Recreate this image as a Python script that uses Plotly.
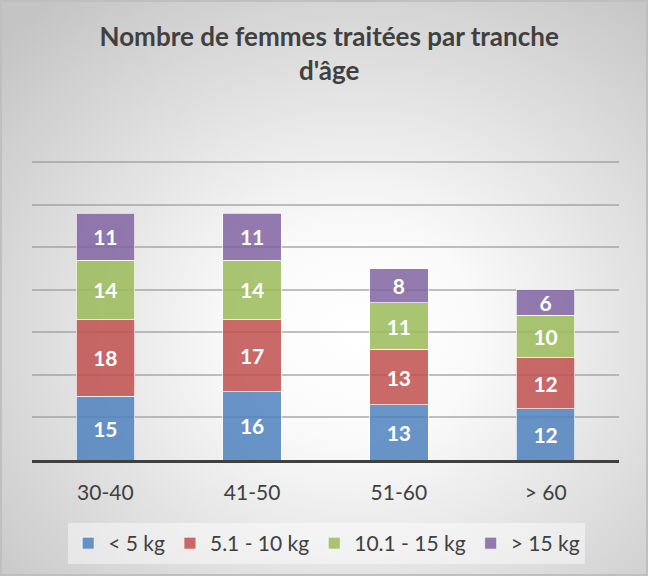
import base64
import plotly.graph_objects as go

# data
tranches = ["30-40", "41-50", "51-60", "> 60"]
moins_5kg = [15, 16, 13, 12]
de_5_10kg = [18, 17, 13, 12]
de_10_15kg = [14, 14, 11, 10]
plus_15kg = [11, 11, 8, 6]
series_names = ["< 5 kg", "5.1 - 10 kg", "10.1 - 15 kg", "> 15 kg"]
series_colors = ["rgba(79,129,189,0.85)", "rgba(192,80,77,0.85)",
                 "rgba(155,187,89,0.85)", "rgba(128,100,162,0.85)"]

W, H = 648, 576
ML, MR, MT, MB = 32, 29, 158, 116
pw, ph = W - ML - MR, H - MT - MB

# radial grey background like the Excel chart style
svg = f"""<svg xmlns='http://www.w3.org/2000/svg' width='{W}' height='{H}' viewBox='0 0 {W} {H}' preserveAspectRatio='none'>
<defs><radialGradient id='g' cx='55%' cy='58%' r='75%'>
<stop offset='0%' stop-color='#ffffff'/><stop offset='25%' stop-color='#fafafa'/>
<stop offset='100%' stop-color='#c4c4c4'/></radialGradient></defs>
<rect x='1' y='1' width='{W-2}' height='{H-2}' fill='url(#g)' stroke='#bfbfbf' stroke-width='2'/>
</svg>"""
bg_src = "data:image/svg+xml;base64," + base64.b64encode(svg.encode()).decode()

fig = go.Figure()
for name, vals, col in zip(series_names, [moins_5kg, de_5_10kg, de_10_15kg, plus_15kg], series_colors):
    fig.add_trace(go.Bar(
        x=tranches, y=vals, name=name,
        marker=dict(color=col, line=dict(color="rgba(255,255,255,0.7)", width=1)),
        text=vals, textposition="inside", insidetextanchor="middle",
        textangle=0, constraintext="none",
        textfont=dict(family="Lato", size=21, color="white", weight="bold"),
    ))

fig.update_layout(
    width=W, height=H,
    barmode="stack", bargap=0.6,
    margin=dict(l=ML, r=MR, t=MT, b=MB),
    paper_bgcolor="white",
    plot_bgcolor="rgba(0,0,0,0)",
    font=dict(family="Lato", color="#404040"),
    title=dict(
        text="<b>Nombre de femmes traitées par tranche<br>d'âge</b>",
        font=dict(size=26, color="#404040"),
        x=0.508, xanchor="center", y=1 - 46 / H, yanchor="middle",
    ),
    xaxis=dict(
        showline=True, linecolor="#404040", linewidth=3,
        showgrid=False, tickfont=dict(size=21, color="#404040"),
        ticks="", ticklabelstandoff=12,
    ),
    yaxis=dict(
        range=[0, 71], dtick=10, showticklabels=False,
        showgrid=True, gridcolor="rgba(150,150,150,0.6)", gridwidth=1.5,
        zeroline=False,
    ),
    legend=dict(
        orientation="h", x=0.502, xanchor="center",
        y=-(523 - 460) / ph, yanchor="top",
        bgcolor="rgba(255,255,255,0.45)",
        font=dict(size=21, color="#404040"),
        itemwidth=30, traceorder="normal",
    ),
    showlegend=True,
    images=[dict(
        source=bg_src, xref="paper", yref="paper",
        x=-ML / pw, y=1 + MT / ph, sizex=W / pw, sizey=H / ph,
        xanchor="left", yanchor="top", sizing="stretch", layer="below",
    )],
)

fig.write_html("out.html", config={"displayModeBar": False},
               post_script="document.body.style.margin='0';")
